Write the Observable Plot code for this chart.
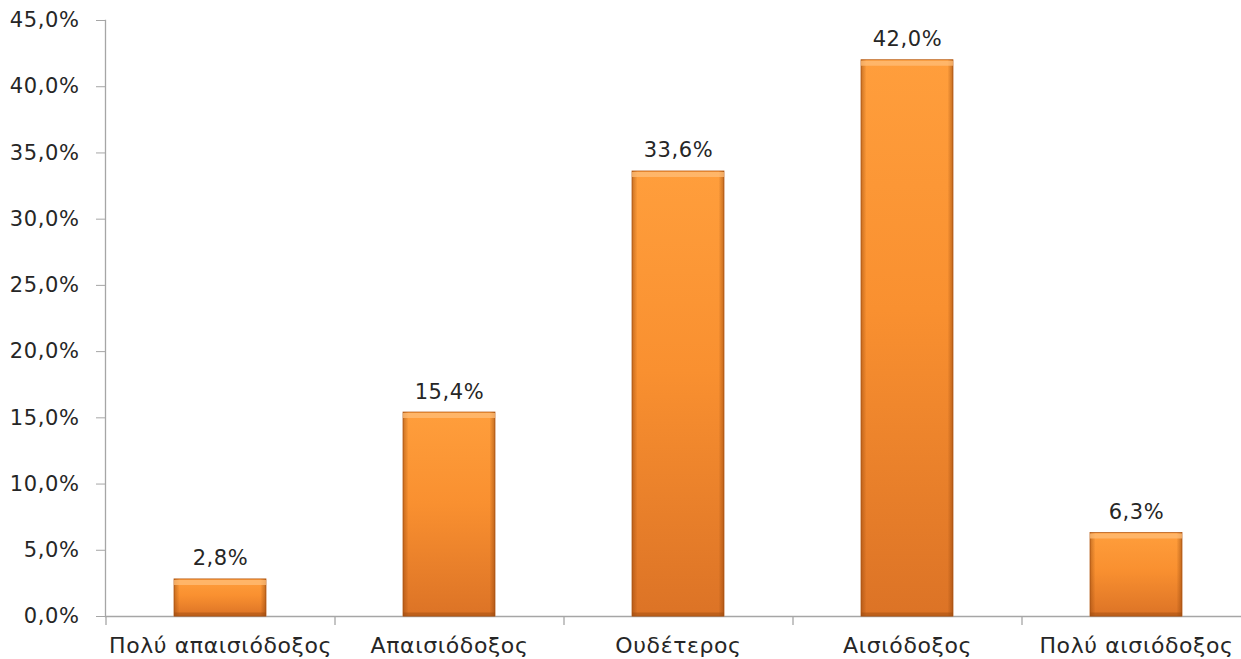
<!DOCTYPE html>
<html>
<head>
<meta charset="utf-8">
<script src="https://cdn.jsdelivr.net/npm/d3@7"></script>
<script src="https://cdn.jsdelivr.net/npm/@observablehq/plot@0.6"></script>
<style>
  body { margin: 0; background: #fff; }
  svg text { letter-spacing: 0.6px; }
</style>
</head>
<body>
<div id="chart"></div>
<script>
// Survey answers: outlook categories and share of respondents (%)
const categories = ["Πολύ απαισιόδοξος", "Απαισιόδοξος", "Ουδέτερος", "Αισιόδοξος", "Πολύ αισιόδοξος"];
const shares = [2.8, 15.4, 33.6, 42.0, 6.3];
const yTicks = [0, 5, 10, 15, 20, 25, 30, 35, 40, 45];

const rows = categories.map((category, i) => ({category, value: shares[i]}));
const pct = v => v.toFixed(1).replace(".", ",") + "%";

const W = 1241, H = 659;
const left = 105, step = 229;
const textColor = "#262626";
const axisColor = "#A6A6A6";
const font = "DejaVu Sans, Verdana, sans-serif";

const chart = Plot.plot({
  width: W,
  height: H,
  marginLeft: left,
  marginRight: 0,
  marginTop: 20,
  marginBottom: 43,
  style: {fontFamily: font, fontSize: "21px", color: textColor, background: "#fff"},
  x: {type: "band", domain: categories, range: [left, left + step * categories.length], paddingInner: 0.6, paddingOuter: 0.3, label: null},
  y: {domain: [0, 45], label: null},
  marks: [
    // left axis line and baseline
    Plot.frame({anchor: "left", stroke: axisColor, strokeWidth: 1.3}),
    Plot.ruleY([0], {stroke: axisColor, strokeWidth: 1.3}),
    Plot.axisY({ticks: yTicks, tickFormat: pct, tickSize: 9, tickPadding: 17, stroke: axisColor, fill: textColor, fontSize: 21}),
    // category separators (ticks sit between bands)
    Plot.axisX({tickSize: 9, text: null, stroke: axisColor, strokeWidth: 1.3, dx: -step / 2}),
    Plot.axisX({tickSize: 0, tickPadding: 21, fill: textColor, fontSize: 22}),
    // bars with a bevelled look
    Plot.barY(rows, {x: "category", y: "value", fill: "url(#barFill)", stroke: "#B85E1A", strokeWidth: 0.8}),
    Plot.barY(rows, {x: "category", y: "value", fill: "url(#barSides)"}),
    Plot.tickY(rows, {x: "category", y: "value", stroke: "#FFBE78", strokeWidth: 5, dy: 3, strokeOpacity: 0.75}),
    Plot.tickY(rows, {x: "category", y: 0, stroke: "#9A4A10", strokeWidth: 4, dy: -2, strokeOpacity: 0.45}),
    // value labels
    Plot.text(rows, {x: "category", y: "value", text: d => pct(d.value), dy: -14, lineAnchor: "bottom", fill: textColor, fontSize: 21})
  ]
});

// gradient definitions used by the bar fills
const ns = "http://www.w3.org/2000/svg";
const defs = document.createElementNS(ns, "defs");
defs.innerHTML = `
  <linearGradient id="barFill" x1="0" y1="0" x2="0" y2="1">
    <stop offset="0" stop-color="#FF9E3C"/>
    <stop offset="0.45" stop-color="#F99030"/>
    <stop offset="1" stop-color="#DC7326"/>
  </linearGradient>
  <linearGradient id="barSides" x1="0" y1="0" x2="1" y2="0">
    <stop offset="0" stop-color="#8A3E08" stop-opacity="0.45"/>
    <stop offset="0.06" stop-color="#8A3E08" stop-opacity="0"/>
    <stop offset="0.94" stop-color="#8A3E08" stop-opacity="0"/>
    <stop offset="1" stop-color="#8A3E08" stop-opacity="0.5"/>
  </linearGradient>`;
chart.insertBefore(defs, chart.firstChild);

document.getElementById("chart").appendChild(chart);
</script>
</body>
</html>
